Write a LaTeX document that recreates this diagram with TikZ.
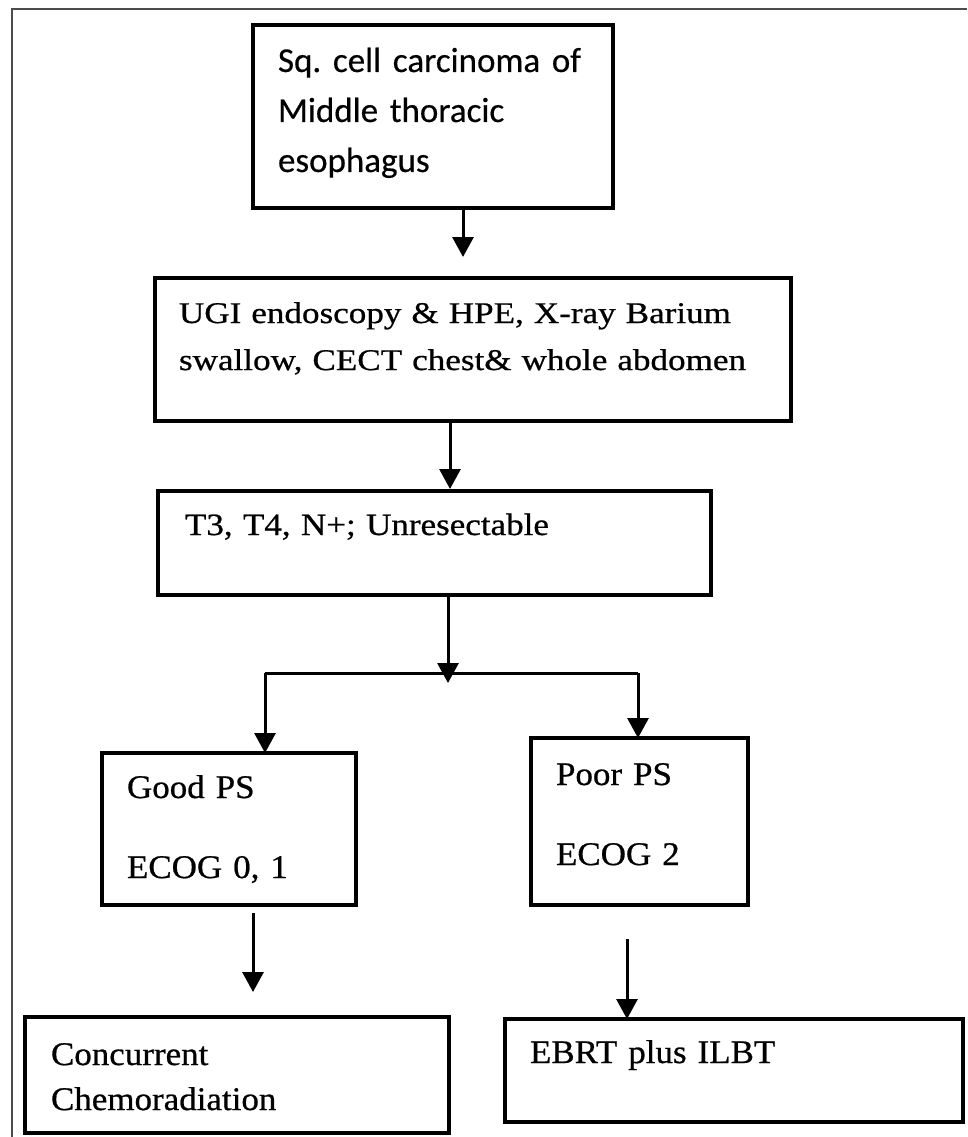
\documentclass[tikz,border=0pt]{standalone}
\usepackage{fontspec}
\setmainfont{Liberation Serif}
\newfontfamily\calib{Carlito}[FakeBold=0.4]
\newfontfamily\serA{Liberation Serif}[FakeStretch=1.17,FakeBold=0.7]
\newfontfamily\serB{Liberation Serif}[FakeStretch=1.13,FakeBold=0.7]
\newfontfamily\serC{Liberation Serif}[FakeStretch=1.06,FakeBold=0.7]
\usetikzlibrary{arrows.meta}
\tikzset{
  box/.style={draw, rectangle, line width=3.3pt, anchor=north west, align=left,
    inner ysep=0pt, outer sep=0pt},
  conn/.style={line width=3pt},
  arr/.style={line width=3pt, -{Triangle[width=21pt,length=20pt]}},
  frame/.style={draw=black!70, line width=1.4pt}
}
\begin{document}
\frenchspacing
\begin{tikzpicture}[x=1pt,y=-1pt]
\useasboundingbox (0,0) rectangle (967,1137);
\draw[frame] (12,1137) -- (12,9) -- (967,9);

\node[box, inner xsep=25pt, text width=310pt, text height=47pt, text depth=136pt,
  font=\calib\fontsize{35pt}{50pt}\selectfont] (b1) at (253,25)
  {Sq. cell carcinoma of\\Middle thoracic\\esophagus};

\node[box, inner xsep=24pt, text width=588pt, text height=45pt, text depth=98pt,
  font=\serA\fontsize{30pt}{47pt}\selectfont] (b2) at (155,278)
  {UGI endoscopy \& HPE, X-ray Barium\\swallow, CECT chest\& whole abdomen};

\node[box, inner xsep=27pt, text width=499pt, text height=44pt, text depth=60pt,
  font=\serB\fontsize{31pt}{48pt}\selectfont] (b3) at (158,491)
  {T3, T4, N+; Unresectable};

\node[box, inner xsep=25pt, text width=204pt, text height=45pt, text depth=107pt,
  font=\serC\fontsize{33pt}{80pt}\selectfont] (good) at (102,753)
  {Good PS\\ECOG 0, 1};

\node[box, inner xsep=25pt, text width=167pt, text height=47pt, text depth=120pt,
  font=\serC\fontsize{33pt}{80pt}\selectfont] (poor) at (531,738)
  {Poor PS\\ECOG 2};

\node[box, inner xsep=26pt, text width=372pt, text height=48pt, text depth=68pt,
  font=\serC\fontsize{33pt}{45pt}\selectfont] (conc) at (25,1017)
  {Concurrent\\Chemoradiation};

\node[box, inner xsep=25pt, text width=408pt, text height=44pt, text depth=59pt,
  font=\serC\fontsize{33pt}{45pt}\selectfont] (ebrt) at (505,1019)
  {EBRT plus ILBT};

% connectors
\coordinate (a1) at (463,257);
\coordinate (a2) at (450,489);
\coordinate (jt) at (448,683);
\coordinate (jl) at (265,673);
\coordinate (jr) at (638,673);
\coordinate (gl) at (253,913);
\coordinate (gt) at (253,992);
\coordinate (pl) at (627,939);

\draw[arr] (a1 |- b1.south) -- (a1);
\draw[arr] (a2 |- b2.south) -- (a2);
\draw[arr] (jt |- b3.south) -- (jt);
\draw[conn] (jl) -- (jr);
\draw[arr] (jl) -- (jl |- good.north);
\draw[arr] (jr) -- (jr |- poor.north);
\draw[arr] (gl) -- (gt);
\draw[arr] (pl) -- (pl |- ebrt.north);
\end{tikzpicture}
\end{document}
